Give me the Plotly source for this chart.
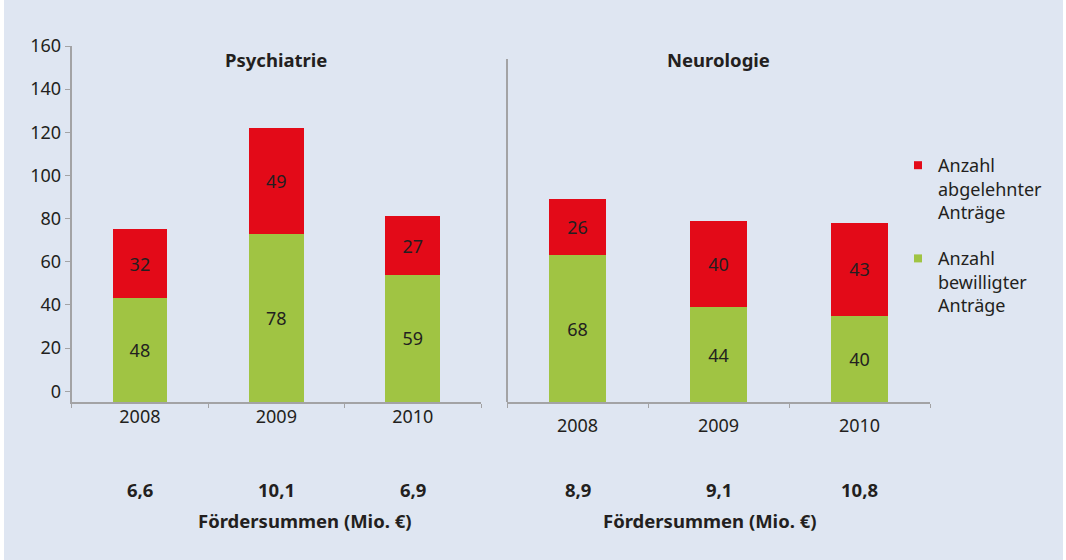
import plotly.graph_objects as go

# ---- data ----
years = ["2008", "2009", "2010"]
psych_bewilligt = [48, 78, 59]
psych_abgelehnt = [32, 49, 27]
neuro_bewilligt = [68, 44, 40]
neuro_abgelehnt = [26, 40, 43]
psych_foerder = ["6,6", "10,1", "6,9"]
neuro_foerder = ["8,9", "9,1", "10,8"]
panel_titles = ["Psychiatrie", "Neurologie"]
y_tick_labels = [0, 20, 40, 60, 80, 100, 120, 140, 160]
legend_names = ["Anzahl<br>abgelehnter<br>Anträge", "Anzahl<br>bewilligter<br>Anträge"]
foerder_title = "Fördersummen (Mio. €)"

RED = "#E30A18"
GREEN = "#A0C443"
TXT = "#231F20"
GRID = "#A3A3A5"
BG = "#DFE6F2"
FONT = "Noto Sans"
FS = 18      # regular text size
FSB = 18.5   # bold text size

W, H = 1066, 560
def px(x):
    return x / W
def py(y):
    return 1 - y / H

fig = go.Figure()

def add_bars(xa, ya, green, red):
    for vals, col in [(green, GREEN), (red, RED)]:
        fig.add_trace(go.Bar(x=years, y=vals, marker_color=col, marker_line_width=0,
                             width=0.4, text=[str(v) for v in vals], textposition="inside",
                             insidetextanchor="middle", textangle=0,
                             textfont=dict(color=TXT, size=FS, family=FONT),
                             xaxis=xa, yaxis=ya, showlegend=False, hoverinfo="skip"))

add_bars("x", "y", psych_bewilligt, psych_abgelehnt)
add_bars("x2", "y2", neuro_bewilligt, neuro_abgelehnt)

# legend-only traces (no visible points)
for i, (name, col) in enumerate(zip(legend_names, [RED, GREEN])):
    fig.add_trace(go.Scatter(x=[years[0]], y=[None], mode="markers", name=name,
                             legendgroup=f"g{i}",
                             marker=dict(symbol="square", size=8, color=col),
                             xaxis="x", yaxis="y", hoverinfo="skip"))

ydom = [py(402), py(46)]
yrange = [0, 165]
tick_offset = 5

common_x = dict(type="category", categoryorder="array", categoryarray=years,
                range=[-0.5, 2.5], automargin=False,
                showline=True, linecolor=GRID, linewidth=2,
                ticks="outside", tickson="boundaries", ticklen=4, tickcolor=GRID, tickwidth=1,
                showgrid=False, zeroline=False, tickangle=0,
                tickfont=dict(size=FS, color=TXT, family=FONT))

fig.update_layout(
    width=W, height=H,
    margin=dict(l=0, r=0, t=0, b=0, autoexpand=False),
    paper_bgcolor=BG, plot_bgcolor=BG,
    barmode="stack",
    font=dict(family=FONT, color=TXT, size=FS),
    xaxis=dict(domain=[px(71.7), px(481)], anchor="y", ticklabelstandoff=-3, **common_x),
    xaxis2=dict(domain=[px(507), px(930)], anchor="y2", ticklabelstandoff=6, **common_x),
    yaxis=dict(domain=ydom, range=yrange, anchor="x", automargin=False,
               showline=True, linecolor=GRID, linewidth=2,
               ticks="outside", ticklen=5, tickcolor=GRID, tickwidth=1,
               tickvals=[v + tick_offset for v in y_tick_labels],
               ticktext=[str(v) for v in y_tick_labels],
               showgrid=False, zeroline=False,
               tickfont=dict(size=FS, color=TXT, family=FONT)),
    yaxis2=dict(domain=ydom, range=yrange, anchor="x2", visible=False, automargin=False),
    legend=dict(x=px(898), y=py(147), xanchor="left", yanchor="top",
                bgcolor="rgba(0,0,0,0)", font=dict(size=FS, color=TXT, family=FONT),
                tracegroupgap=20, valign="top", itemwidth=30, traceorder="grouped"),
    showlegend=True,
)

shapes = [
    dict(type="line", xref="paper", yref="paper", x0=px(507), x1=px(507), y0=py(402), y1=py(59),
         line=dict(color=GRID, width=2)),
    dict(type="rect", xref="paper", yref="paper", x0=px(1063), x1=1, y0=0, y1=1,
         fillcolor="white", line_width=0, layer="above"),
    dict(type="rect", xref="paper", yref="paper", x0=0, x1=px(4), y0=0, y1=1,
         fillcolor="white", line_width=0, layer="above"),
]
fig.update_layout(shapes=shapes)

annots = []
for xa, title in zip(["x", "x2"], panel_titles):
    annots.append(dict(x=1, xref=xa, y=py(60), yref="paper", text=f"<b>{title}</b>",
                       showarrow=False, font=dict(size=FSB, color=TXT, family=FONT),
                       xanchor="center", yanchor="middle"))
for xa, vals in zip(["x", "x2"], [psych_foerder, neuro_foerder]):
    for i, v in enumerate(vals):
        annots.append(dict(x=i, xref=xa, y=py(489), yref="paper", text=f"<b>{v}</b>",
                           showarrow=False, font=dict(size=FSB, color=TXT, family=FONT),
                           xanchor="center", yanchor="middle"))
for cx in [305, 710]:
    annots.append(dict(x=px(cx), xref="paper", y=py(520), yref="paper", text=f"<b>{foerder_title}</b>",
                       showarrow=False, font=dict(size=FSB, color=TXT, family=FONT),
                       xanchor="center", yanchor="middle"))
fig.update_layout(annotations=annots)

fig.write_html("out.html",
               config={"displayModeBar": False},
               post_script="document.body.style.margin='0';document.body.style.overflow='hidden';")
